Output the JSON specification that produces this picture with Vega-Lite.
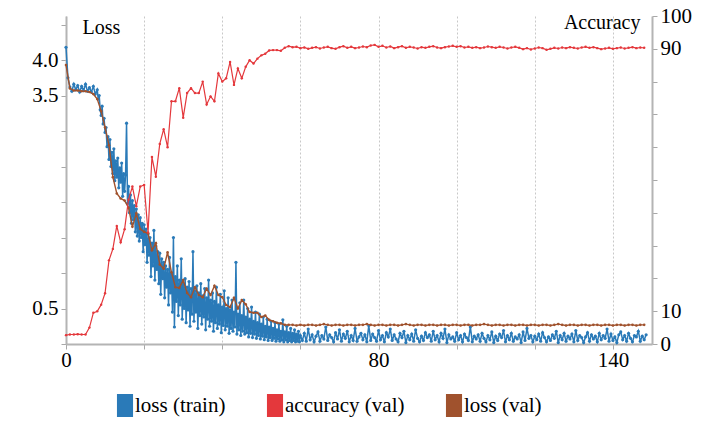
{
"$schema": "https://vega.github.io/schema/vega-lite/v6.json",
"width": 586, "height": 328,
"autosize": {"type": "none"},
"padding": {"left": 66, "top": 16, "right": 60, "bottom": 77},
"background": "white",
"config": {
 "font": "Liberation Serif",
 "view": {"stroke": null},
 "style": {"guide-label": {"font": "Liberation Serif"}, "guide-title": {"font": "Liberation Serif"}},
 "axis": {"labelFont": "Liberation Serif", "titleFont": "Liberation Serif", "labelFontSize": 21, "titleFontSize": 20, "labelColor": "#000", "titleColor": "#000", "titleFontWeight": "normal", "domainColor": "#b4b4b4", "domainWidth": 2, "tickColor": "#a8a8a8", "tickSize": 5, "grid": false},
 "legend": {"labelFont": "Liberation Serif", "labelFontSize": 21, "labelColor": "#000", "padding": 0}
},
"datasets": {
 "train": [
{"e":0,"v":4.18},{"e":0.5,"v":3.75},{"e":1,"v":3.62},{"e":1.5,"v":3.56},{"e":2,"v":3.66},{"e":2.5,"v":3.58},{"e":3,"v":3.64},{"e":3.5,"v":3.55},{"e":4,"v":3.63},{"e":4.5,"v":3.57},{"e":5,"v":3.66},{"e":5.5,"v":3.56},{"e":6,"v":3.61},{"e":6.5,"v":3.55},{"e":7,"v":3.63},{"e":7.5,"v":3.52},
{"e":8,"v":3.58},{"e":8.25,"v":3.45},{"e":8.5,"v":3.5},{"e":8.75,"v":3.3},{"e":9,"v":3.22},{"e":9.25,"v":3.35},{"e":9.5,"v":3.1},{"e":9.75,"v":3.18},
{"e":10,"v":2.98},{"e":10.25,"v":3.05},{"e":10.5,"v":2.78},{"e":10.75,"v":2.92},{"e":11,"v":2.6},{"e":11.25,"v":2.88},{"e":11.5,"v":2.5},{"e":11.75,"v":2.7},
{"e":12,"v":2.4},{"e":12.25,"v":2.75},{"e":12.5,"v":2.3},{"e":12.75,"v":2.58},{"e":13,"v":2.35},{"e":13.25,"v":2.62},{"e":13.5,"v":2.2},{"e":13.75,"v":2.48},
{"e":14,"v":2.28},{"e":14.25,"v":2.55},{"e":14.5,"v":2.08},{"e":14.75,"v":2.4},{"e":15,"v":2.15},{"e":15.25,"v":2.38},{"e":15.5,"v":3.11},{"e":15.75,"v":1.98},
{"e":16,"v":2.22},{"e":16.25,"v":1.85},{"e":16.5,"v":2.1},{"e":16.75,"v":1.7},{"e":17,"v":2.02},{"e":17.25,"v":1.75},{"e":17.5,"v":1.95},{"e":17.75,"v":1.58},
{"e":18,"v":1.9},{"e":18.25,"v":1.52},{"e":18.5,"v":1.82},{"e":18.75,"v":1.45},{"e":19,"v":1.78},{"e":19.25,"v":1.5},{"e":19.5,"v":1.7},{"e":19.75,"v":1.3},
{"e":20,"v":1.68},{"e":20.25,"v":1.4},{"e":20.5,"v":1.62},{"e":20.75,"v":1.15},{"e":21,"v":1.55},{"e":21.25,"v":1.25},{"e":21.5,"v":1.5},{"e":21.75,"v":0.95},
{"e":22,"v":1.42},{"e":22.25,"v":1.1},{"e":22.5,"v":1.6},{"e":22.75,"v":0.9},{"e":23,"v":1.38},{"e":23.25,"v":1.05},{"e":23.5,"v":1.3},{"e":23.75,"v":0.85},
{"e":24,"v":1.28},{"e":24.25,"v":0.7},{"e":24.5,"v":1.2},{"e":24.75,"v":0.92},{"e":25,"v":1.15},{"e":25.25,"v":0.65},{"e":25.5,"v":1.1},{"e":25.75,"v":0.8},
{"e":26,"v":1.05},{"e":26.25,"v":0.55},{"e":26.5,"v":1.22},{"e":26.75,"v":0.72},{"e":27,"v":1.0},{"e":27.25,"v":0.45},{"e":27.5,"v":1.5},{"e":27.75,"v":0.24},
{"e":28,"v":0.95},{"e":28.25,"v":0.6},{"e":28.5,"v":1.1},{"e":28.75,"v":0.4},{"e":29,"v":0.9},{"e":29.25,"v":0.55},{"e":29.5,"v":1.2},{"e":29.75,"v":0.35},
{"e":30,"v":0.85},{"e":30.25,"v":0.5},{"e":30.5,"v":0.92},{"e":30.75,"v":0.3},{"e":31,"v":0.8},{"e":31.25,"v":0.48},{"e":31.5,"v":0.88},{"e":31.75,"v":0.25},
{"e":32,"v":0.78},{"e":32.25,"v":0.42},{"e":32.5,"v":1.3},{"e":32.75,"v":0.32},{"e":33,"v":0.75},{"e":33.25,"v":0.45},{"e":33.5,"v":0.82},{"e":33.75,"v":0.22},
{"e":34,"v":0.72},{"e":34.25,"v":0.4},{"e":34.5,"v":0.85},{"e":34.75,"v":0.28},{"e":35,"v":0.68},{"e":35.25,"v":0.38},{"e":35.5,"v":0.78},{"e":35.75,"v":0.2},
{"e":36,"v":0.65},{"e":36.25,"v":0.35},{"e":36.5,"v":0.9},{"e":36.75,"v":0.25},{"e":37,"v":0.62},{"e":37.25,"v":0.32},{"e":37.5,"v":0.72},{"e":37.75,"v":0.18},
{"e":38,"v":0.6},{"e":38.25,"v":0.3},{"e":38.5,"v":0.8},{"e":38.75,"v":0.22},{"e":39,"v":0.55},{"e":39.25,"v":0.28},{"e":39.5,"v":0.7},{"e":39.75,"v":0.16},
{"e":40,"v":0.52},{"e":40.25,"v":0.26},{"e":40.5,"v":0.75},{"e":40.75,"v":0.2},{"e":41,"v":0.5},{"e":41.25,"v":0.25},{"e":41.5,"v":0.65},{"e":41.75,"v":0.15},
{"e":42,"v":0.48},{"e":42.25,"v":0.22},{"e":42.5,"v":0.62},{"e":42.75,"v":0.18},{"e":43,"v":0.45},{"e":43.25,"v":0.24},{"e":43.5,"v":1.15},{"e":43.75,"v":0.14},
{"e":44,"v":0.42},{"e":44.25,"v":0.2},{"e":44.5,"v":0.58},{"e":44.75,"v":0.12},{"e":45,"v":0.4},{"e":45.25,"v":0.18},{"e":45.5,"v":0.62},{"e":45.75,"v":0.14},
{"e":46,"v":0.38},{"e":46.25,"v":0.16},{"e":46.5,"v":0.5},{"e":46.75,"v":0.1},{"e":47,"v":0.35},{"e":47.25,"v":0.15},{"e":47.5,"v":0.52},{"e":47.75,"v":0.09},
{"e":48,"v":0.32},{"e":48.25,"v":0.14},{"e":48.5,"v":0.45},{"e":48.75,"v":0.08},{"e":49,"v":0.3},{"e":49.25,"v":0.12},{"e":49.5,"v":0.42},{"e":49.75,"v":0.07},
{"e":50,"v":0.28},{"e":50.25,"v":0.11},{"e":50.5,"v":0.38},{"e":50.75,"v":0.06},{"e":51,"v":0.25},{"e":51.25,"v":0.1},{"e":51.5,"v":0.35},{"e":51.75,"v":0.05},
{"e":52,"v":0.24},{"e":52.25,"v":0.09},{"e":52.5,"v":0.32},{"e":52.75,"v":0.05},{"e":53,"v":0.22},{"e":53.25,"v":0.08},{"e":53.5,"v":0.3},{"e":53.75,"v":0.04},
{"e":54,"v":0.2},{"e":54.25,"v":0.07},{"e":54.5,"v":0.28},{"e":54.75,"v":0.04},{"e":55,"v":0.18},{"e":55.25,"v":0.06},{"e":55.5,"v":0.34},{"e":55.75,"v":0.03},
{"e":56,"v":0.17},{"e":56.25,"v":0.06},{"e":56.5,"v":0.25},{"e":56.75,"v":0.03},{"e":57,"v":0.16},{"e":57.25,"v":0.05},{"e":57.5,"v":0.22},{"e":57.75,"v":0.03},
{"e":58,"v":0.15},{"e":58.25,"v":0.05},{"e":58.5,"v":0.2},{"e":58.75,"v":0.03},{"e":59,"v":0.14},{"e":59.25,"v":0.04},{"e":59.5,"v":0.18},{"e":59.75,"v":0.03},
{"e":60,"v":0.12},{"e":60.5,"v":0.05},{"e":61,"v":0.15},{"e":61.5,"v":0.04},{"e":62,"v":0.21},{"e":62.5,"v":0.06},{"e":63,"v":0.13},{"e":63.5,"v":0.03},{"e":64,"v":0.11},{"e":64.5,"v":0.17},{"e":65,"v":0.04},{"e":65.5,"v":0.12},{"e":66,"v":0.07},{"e":66.5,"v":0.24},{"e":67,"v":0.05},{"e":67.5,"v":0.13},{"e":68,"v":0.09},{"e":68.5,"v":0.03},{"e":69,"v":0.16},{"e":69.5,"v":0.07},
{"e":70,"v":0.2},{"e":70.5,"v":0.04},{"e":71,"v":0.14},{"e":71.5,"v":0.08},{"e":72,"v":0.18},{"e":72.5,"v":0.03},{"e":73,"v":0.12},{"e":73.5,"v":0.05},{"e":74,"v":0.22},{"e":74.5,"v":0.04},{"e":75,"v":0.1},{"e":75.5,"v":0.15},{"e":76,"v":0.06},{"e":76.5,"v":0.13},{"e":77,"v":0.03},{"e":77.5,"v":0.26},{"e":78,"v":0.05},{"e":78.5,"v":0.14},{"e":79,"v":0.09},{"e":79.5,"v":0.04},
{"e":80,"v":0.19},{"e":80.5,"v":0.06},{"e":81,"v":0.12},{"e":81.5,"v":0.03},{"e":82,"v":0.16},{"e":82.5,"v":0.1},{"e":83,"v":0.21},{"e":83.5,"v":0.05},{"e":84,"v":0.13},{"e":84.5,"v":0.07},{"e":85,"v":0.03},{"e":85.5,"v":0.15},{"e":86,"v":0.09},{"e":86.5,"v":0.18},{"e":87,"v":0.02},{"e":87.5,"v":0.12},{"e":88,"v":0.06},{"e":88.5,"v":0.14},{"e":89,"v":0.04},{"e":89.5,"v":0.2},
{"e":90,"v":0.08},{"e":90.5,"v":0.03},{"e":91,"v":0.11},{"e":91.5,"v":0.05},{"e":92,"v":0.16},{"e":92.5,"v":0.09},{"e":93,"v":0.13},{"e":93.5,"v":0.04},{"e":94,"v":0.18},{"e":94.5,"v":0.06},{"e":95,"v":0.12},{"e":95.5,"v":0.03},{"e":96,"v":0.15},{"e":96.5,"v":0.08},{"e":97,"v":0.21},{"e":97.5,"v":0.02},{"e":98,"v":0.13},{"e":98.5,"v":0.07},{"e":99,"v":0.1},{"e":99.5,"v":0.04},
{"e":100,"v":0.16},{"e":100.5,"v":0.06},{"e":101,"v":0.12},{"e":101.5,"v":0.03},{"e":102,"v":0.14},{"e":102.5,"v":0.09},{"e":103,"v":0.05},{"e":103.5,"v":0.24},{"e":104,"v":0.03},{"e":104.5,"v":0.11},{"e":105,"v":0.07},{"e":105.5,"v":0.13},{"e":106,"v":0.04},{"e":106.5,"v":0.15},{"e":107,"v":0.08},{"e":107.5,"v":0.03},{"e":108,"v":0.12},{"e":108.5,"v":0.06},{"e":109,"v":0.17},{"e":109.5,"v":0.02},
{"e":110,"v":0.11},{"e":110.5,"v":0.05},{"e":111,"v":0.14},{"e":111.5,"v":0.09},{"e":112,"v":0.19},{"e":112.5,"v":0.03},{"e":113,"v":0.12},{"e":113.5,"v":0.06},{"e":114,"v":0.15},{"e":114.5,"v":0.04},{"e":115,"v":0.1},{"e":115.5,"v":0.07},{"e":116,"v":0.13},{"e":116.5,"v":0.02},{"e":117,"v":0.17},{"e":117.5,"v":0.05},{"e":118,"v":0.22},{"e":118.5,"v":0.08},{"e":119,"v":0.12},{"e":119.5,"v":0.03},
{"e":120,"v":0.11},{"e":120.5,"v":0.06},{"e":121,"v":0.14},{"e":121.5,"v":0.04},{"e":122,"v":0.16},{"e":122.5,"v":0.09},{"e":123,"v":0.03},{"e":123.5,"v":0.1},{"e":124,"v":0.05},{"e":124.5,"v":0.13},{"e":125,"v":0.08},{"e":125.5,"v":0.18},{"e":126,"v":0.02},{"e":126.5,"v":0.12},{"e":127,"v":0.06},{"e":127.5,"v":0.15},{"e":128,"v":0.04},{"e":128.5,"v":0.11},{"e":129,"v":0.07},{"e":129.5,"v":0.14},
{"e":130,"v":0.03},{"e":130.5,"v":0.19},{"e":131,"v":0.05},{"e":131.5,"v":0.12},{"e":132,"v":0.09},{"e":132.5,"v":0.02},{"e":133,"v":0.1},{"e":133.5,"v":0.16},{"e":134,"v":0.04},{"e":134.5,"v":0.13},{"e":135,"v":0.07},{"e":135.5,"v":0.11},{"e":136,"v":0.03},{"e":136.5,"v":0.15},{"e":137,"v":0.06},{"e":137.5,"v":0.12},{"e":138,"v":0.08},{"e":138.5,"v":0.21},{"e":139,"v":0.04},{"e":139.5,"v":0.14},
{"e":140,"v":0.05},{"e":140.5,"v":0.1},{"e":141,"v":0.02},{"e":141.5,"v":0.13},{"e":142,"v":0.17},{"e":142.5,"v":0.06},{"e":143,"v":0.12},{"e":143.5,"v":0.04},{"e":144,"v":0.15},{"e":144.5,"v":0.08},{"e":145,"v":0.03},{"e":145.5,"v":0.12},{"e":146,"v":0.1},{"e":146.5,"v":0.18},{"e":147,"v":0.04},{"e":147.5,"v":0.11},{"e":148,"v":0.06},{"e":148.5,"v":0.13}
 ],
 "val": [
{"e":0,"v":3.93},{"e":1,"v":3.6},{"e":2,"v":3.57},{"e":3,"v":3.57},{"e":4,"v":3.56},{"e":5,"v":3.56},{"e":6,"v":3.55},{"e":7,"v":3.52},{"e":8,"v":3.45},{"e":9,"v":3.28},
{"e":10,"v":3.05},{"e":11,"v":2.8},{"e":12,"v":2.35},{"e":13,"v":2.12},{"e":14,"v":2.05},{"e":15,"v":2.02},{"e":16,"v":1.92},{"e":17,"v":1.65},{"e":18,"v":1.84},{"e":19,"v":1.62},
{"e":20,"v":1.58},{"e":21,"v":1.56},{"e":22,"v":1.32},{"e":23,"v":1.42},{"e":24,"v":1.12},{"e":25,"v":1.06},{"e":26,"v":1.29},{"e":27,"v":1.01},{"e":28,"v":0.8},{"e":29,"v":0.79},
{"e":30,"v":0.9},{"e":31,"v":0.72},{"e":32,"v":0.66},{"e":33,"v":0.8},{"e":34,"v":0.69},{"e":35,"v":0.66},{"e":36,"v":0.78},{"e":37,"v":0.69},{"e":38,"v":0.82},{"e":39,"v":0.69},
{"e":40,"v":0.66},{"e":41,"v":0.55},{"e":42,"v":0.52},{"e":43,"v":0.65},{"e":44,"v":0.5},{"e":45,"v":0.62},{"e":46,"v":0.56},{"e":47,"v":0.45},{"e":48,"v":0.44},{"e":49,"v":0.44},
{"e":50,"v":0.38},{"e":51,"v":0.4},{"e":52,"v":0.34},{"e":53,"v":0.32},{"e":54,"v":0.3},{"e":55,"v":0.29},{"e":56,"v":0.27},{"e":57,"v":0.27},{"e":58,"v":0.27},{"e":59,"v":0.26},
{"e":60,"v":0.27},{"e":61,"v":0.26},{"e":62,"v":0.27},{"e":63,"v":0.27},{"e":64,"v":0.26},{"e":65,"v":0.27},{"e":66,"v":0.28},{"e":67,"v":0.27},{"e":68,"v":0.26},{"e":69,"v":0.27},
{"e":70,"v":0.27},{"e":71,"v":0.26},{"e":72,"v":0.27},{"e":73,"v":0.27},{"e":74,"v":0.26},{"e":75,"v":0.27},{"e":76,"v":0.27},{"e":77,"v":0.28},{"e":78,"v":0.27},{"e":79,"v":0.26},
{"e":80,"v":0.27},{"e":81,"v":0.27},{"e":82,"v":0.26},{"e":83,"v":0.27},{"e":84,"v":0.27},{"e":85,"v":0.26},{"e":86,"v":0.27},{"e":87,"v":0.28},{"e":88,"v":0.27},{"e":89,"v":0.26},
{"e":90,"v":0.27},{"e":91,"v":0.27},{"e":92,"v":0.26},{"e":93,"v":0.27},{"e":94,"v":0.27},{"e":95,"v":0.26},{"e":96,"v":0.27},{"e":97,"v":0.27},{"e":98,"v":0.26},{"e":99,"v":0.27},
{"e":100,"v":0.27},{"e":101,"v":0.26},{"e":102,"v":0.27},{"e":103,"v":0.27},{"e":104,"v":0.26},{"e":105,"v":0.27},{"e":106,"v":0.27},{"e":107,"v":0.28},{"e":108,"v":0.27},{"e":109,"v":0.26},
{"e":110,"v":0.27},{"e":111,"v":0.27},{"e":112,"v":0.26},{"e":113,"v":0.27},{"e":114,"v":0.27},{"e":115,"v":0.26},{"e":116,"v":0.27},{"e":117,"v":0.27},{"e":118,"v":0.26},{"e":119,"v":0.27},
{"e":120,"v":0.27},{"e":121,"v":0.26},{"e":122,"v":0.27},{"e":123,"v":0.27},{"e":124,"v":0.26},{"e":125,"v":0.27},{"e":126,"v":0.28},{"e":127,"v":0.27},{"e":128,"v":0.26},{"e":129,"v":0.27},
{"e":130,"v":0.27},{"e":131,"v":0.26},{"e":132,"v":0.27},{"e":133,"v":0.27},{"e":134,"v":0.26},{"e":135,"v":0.27},{"e":136,"v":0.27},{"e":137,"v":0.26},{"e":138,"v":0.27},{"e":139,"v":0.27},
{"e":140,"v":0.26},{"e":141,"v":0.27},{"e":142,"v":0.27},{"e":143,"v":0.26},{"e":144,"v":0.27},{"e":145,"v":0.27},{"e":146,"v":0.26},{"e":147,"v":0.27},{"e":148,"v":0.27}
 ],
 "acc": [
{"e":0,"v":2.7},{"e":1,"v":2.9},{"e":2,"v":2.9},{"e":3,"v":3.0},{"e":4,"v":2.9},{"e":5,"v":2.9},{"e":6,"v":5.0},{"e":7,"v":9.5},{"e":8,"v":10.0},{"e":9,"v":12.0},
{"e":10,"v":15.5},{"e":11,"v":25.5},{"e":12,"v":29.0},{"e":13,"v":36.0},{"e":14,"v":31.0},{"e":15,"v":35.0},{"e":16,"v":44.0},{"e":17,"v":48.0},{"e":18,"v":42.0},{"e":19,"v":48.0},
{"e":20,"v":48.5},{"e":21,"v":34.0},{"e":22,"v":57.0},{"e":23,"v":51.0},{"e":24,"v":61.0},{"e":25,"v":65.5},{"e":26,"v":60.0},{"e":27,"v":74.0},{"e":28,"v":74.0},{"e":29,"v":78.0},
{"e":30,"v":69.0},{"e":31,"v":76.5},{"e":32,"v":78.0},{"e":33,"v":76.5},{"e":34,"v":76.5},{"e":35,"v":80.0},{"e":36,"v":73.0},{"e":37,"v":75.5},{"e":38,"v":74.0},{"e":39,"v":82.5},
{"e":40,"v":80.0},{"e":41,"v":81.0},{"e":42,"v":86.0},{"e":43,"v":79.0},{"e":44,"v":84.0},{"e":45,"v":81.0},{"e":46,"v":84.5},{"e":47,"v":86.5},{"e":48,"v":85.5},{"e":49,"v":87.0},
{"e":50,"v":88.0},{"e":51,"v":88.5},{"e":52,"v":89.5},{"e":53,"v":89.6},{"e":54,"v":89.6},{"e":55,"v":89.4},{"e":56,"v":90.3},{"e":57,"v":90.8},{"e":58,"v":90.5},{"e":59,"v":90.6},
{"e":60,"v":90.2},{"e":61,"v":90.4},{"e":62,"v":90.0},{"e":63,"v":90.3},{"e":64,"v":90.5},{"e":65,"v":90.1},{"e":66,"v":90.4},{"e":67,"v":90.6},{"e":68,"v":90.2},{"e":69,"v":90.0},
{"e":70,"v":90.5},{"e":71,"v":90.8},{"e":72,"v":90.3},{"e":73,"v":90.6},{"e":74,"v":90.2},{"e":75,"v":90.4},{"e":76,"v":90.7},{"e":77,"v":90.5},{"e":78,"v":91.0},{"e":79,"v":91.2},
{"e":80,"v":90.6},{"e":81,"v":90.9},{"e":82,"v":90.4},{"e":83,"v":90.7},{"e":84,"v":90.2},{"e":85,"v":90.5},{"e":86,"v":90.8},{"e":87,"v":90.3},{"e":88,"v":90.6},{"e":89,"v":90.4},
{"e":90,"v":90.1},{"e":91,"v":90.5},{"e":92,"v":90.3},{"e":93,"v":90.6},{"e":94,"v":90.8},{"e":95,"v":90.4},{"e":96,"v":90.2},{"e":97,"v":90.5},{"e":98,"v":90.7},{"e":99,"v":90.9},
{"e":100,"v":90.6},{"e":101,"v":90.8},{"e":102,"v":90.4},{"e":103,"v":90.6},{"e":104,"v":90.3},{"e":105,"v":90.5},{"e":106,"v":90.2},{"e":107,"v":90.4},{"e":108,"v":90.7},{"e":109,"v":90.5},
{"e":110,"v":90.3},{"e":111,"v":90.6},{"e":112,"v":90.4},{"e":113,"v":90.1},{"e":114,"v":90.4},{"e":115,"v":90.6},{"e":116,"v":90.3},{"e":117,"v":89.9},{"e":118,"v":90.2},{"e":119,"v":89.8},
{"e":120,"v":90.1},{"e":121,"v":90.4},{"e":122,"v":90.2},{"e":123,"v":89.7},{"e":124,"v":90.0},{"e":125,"v":90.3},{"e":126,"v":90.1},{"e":127,"v":90.4},{"e":128,"v":90.2},{"e":129,"v":90.5},
{"e":130,"v":90.3},{"e":131,"v":90.1},{"e":132,"v":90.4},{"e":133,"v":90.6},{"e":134,"v":90.3},{"e":135,"v":90.5},{"e":136,"v":90.2},{"e":137,"v":89.9},{"e":138,"v":90.1},{"e":139,"v":90.3},
{"e":140,"v":90.0},{"e":141,"v":90.2},{"e":142,"v":90.4},{"e":143,"v":90.1},{"e":144,"v":90.3},{"e":145,"v":90.5},{"e":146,"v":90.2},{"e":147,"v":90.4},{"e":148,"v":90.3}
 ]
},
"encoding": {
 "x": {"field": "e", "type": "quantitative", "scale": {"domain": [0, 150], "nice": false},
  "axis": {"title": null, "values": [0, 20, 40, 60, 80, 100, 120, 140], "labelExpr": "(datum.value == 0 || datum.value == 80 || datum.value == 140) ? datum.label : ''", "grid": true, "gridDash": [2, 2], "gridColor": "#c8c8c8", "gridWidth": 1, "labelPadding": 0, "labelFlush": false}}
},
"layer": [
 {
  "encoding": {
   "y": {"field": "v", "type": "quantitative", "scale": {"domain": [0, 4.62], "nice": false, "zero": false},
    "axis": {"orient": "left", "values": [0, 0.5, 1, 1.5, 2, 2.5, 3, 3.5, 4, 4.5], "labelExpr": "(datum.value == 0.5 || datum.value == 3.5 || datum.value == 4) ? format(datum.value, '.1f') : ''", "labelPadding": 3, "title": "Loss", "titleAngle": 0, "titleAlign": "left", "titleBaseline": "alphabetic", "titleX": 16, "titleY": 17}}
  },
  "layer": [
   {"data": {"name": "train"},
    "mark": {"type": "line", "strokeWidth": 1.5, "point": {"filled": true, "size": 10}},
    "encoding": {"color": {"datum": "loss (train)", "type": "nominal",
     "scale": {"domain": ["loss (train)", "accuracy (val)", "loss (val)"], "range": ["#2a7ab8", "#e4383c", "#a0522d"]},
     "legend": {"title": null, "orient": "none", "legendX": 47.5, "legendY": 378, "direction": "horizontal", "columns": 3, "columnPadding": 38, "labelOffset": -1.5,
      "labelFont": "Liberation Serif", "labelFontSize": 21, "labelColor": "#000",
      "symbolType": "M-0.7,-1H0.7V1H-0.7Z", "symbolSize": 529, "symbolStrokeWidth": 0,
      "encode": {"labels": {"update": {"font": {"value": "Liberation Serif"}, "fontSize": {"value": 21}}},
       "symbols": {"update": {"fill": {"signal": "datum.value == 'loss (train)' ? '#0070c0' : datum.value == 'accuracy (val)' ? '#e00000' : '#843c0c'"}, "stroke": {"value": "transparent"}, "opacity": {"value": 1}}}}}}}},
   {"data": {"name": "val"},
    "mark": {"type": "line", "strokeWidth": 1.4, "point": {"filled": true, "size": 7}},
    "encoding": {"color": {"datum": "loss (val)", "type": "nominal"}}}
  ]
 },
 {"data": {"name": "acc"},
  "mark": {"type": "line", "strokeWidth": 1.2, "point": {"filled": true, "size": 6}},
  "encoding": {
   "y": {"field": "v", "type": "quantitative", "scale": {"domain": [0, 100], "nice": false},
    "axis": {"orient": "right", "values": [0, 10, 20, 30, 40, 50, 60, 70, 80, 90, 100], "labelExpr": "(datum.value == 0 || datum.value == 10 || datum.value == 90 || datum.value == 100) ? datum.label : ''", "labelPadding": 3, "title": "Accuracy", "titleAngle": 0, "titleAlign": "right", "titleBaseline": "alphabetic", "titleX": -12, "titleY": 12}},
   "color": {"datum": "accuracy (val)", "type": "nominal"}}}
],
"resolve": {"scale": {"y": "independent"}}
}
